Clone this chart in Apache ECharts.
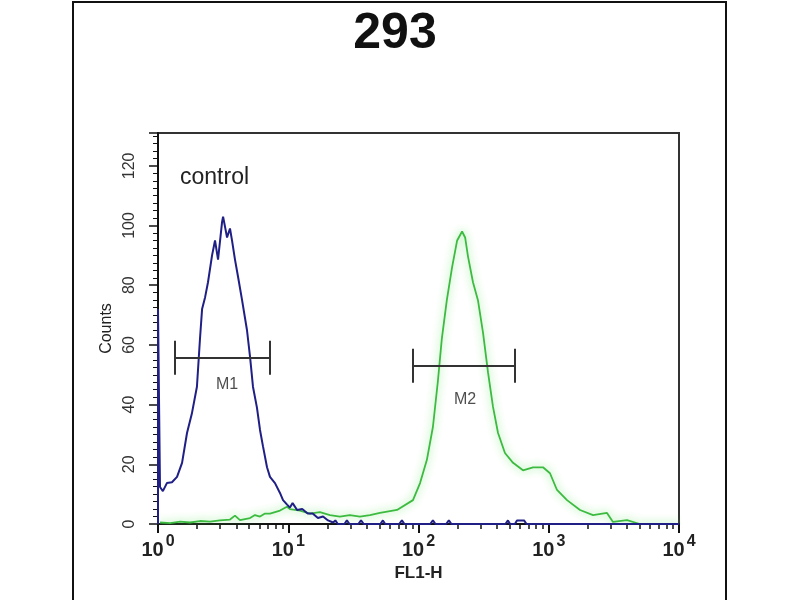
<!DOCTYPE html>
<html>
<head>
<meta charset="utf-8">
<style>
  html, body { margin: 0; padding: 0; background: #fff; }
  #chart { width: 800px; height: 600px; }
</style>
<script src="https://cdn.jsdelivr.net/npm/echarts@6/dist/echarts.min.js"></script>
</head>
<body>
<div id="chart"></div>
<script>
// control histogram (blue) - FL1-H channel value / counts
var blueX = [1, 1, 1.015, 1.036, 1.09, 1.17, 1.28, 1.40, 1.53, 1.67, 1.82, 1.99, 2.10, 2.18, 2.30, 2.42, 2.60, 2.74, 2.89, 3.10,
  3.16, 3.39, 3.57, 3.70, 3.90, 4.11, 4.42, 4.82, 5.09, 5.36, 5.75, 6.07, 6.40, 6.87, 7.24, 7.91, 8.64, 9.12, 9.8, 10.3,
  10.8, 11.7, 12.8, 14.1, 15.4, 16.9, 18.5, 20.2, 22.1, 23, 24, 27, 28.2, 29.5, 34.5, 36.2, 38, 51, 53.3, 55.5,
  71, 74.6, 78, 123, 129, 135, 163, 171, 179, 465, 486, 505, 550, 570, 600, 646, 675, 10000]
var blueY = [0, 72, 72, 12.4, 11, 13.7, 14, 15.8, 20.5, 30.5, 37, 46, 62, 72, 76, 81, 90, 95, 88.6, 101,
  103, 96, 99, 95, 88.6, 83, 75, 65, 56, 46, 39, 31.5, 26, 19, 15.8, 13.7, 10.4, 8, 6.5, 5.5,
  7, 4.7, 5, 3.5, 3.5, 2, 2.5, 1.2, 0.5, 1.2, 0, 0, 1.2, 0, 0, 1.2, 0, 0, 1.2, 0,
  0, 1.2, 0, 0, 1.2, 0, 0, 1.2, 0, 0, 1.2, 0, 0, 1.2, 1.2, 1.2, 0, 0]

// stained histogram (green)
var greenX = [1.036, 1.24, 1.48, 1.76, 2.10, 2.51, 2.99, 3.57, 3.90, 4.26, 5.09, 5.55, 6.07, 6.63, 7.24, 7.91, 8.64, 9.77, 10.3, 12.3,
  14.7, 17.5, 20.9, 24.9, 29.7, 35.5, 42.4, 50.6, 68.4, 90.7, 102.8, 116, 129, 141, 151, 165, 181, 198, 216, 228,
  240, 262, 286, 313, 342, 373, 408, 461, 532, 634, 757, 903, 1022, 1157, 1381, 1738, 2187, 2800, 3113, 3989, 5000, 10000]
var greenY = [0.5, 0.3, 0.8, 0.5, 1, 0.8, 1.2, 1.5, 2.8, 1.3, 2, 3, 2.5, 3.5, 3.5, 4, 4.5, 5.8, 5, 4.5,
  3.5, 4, 3, 2.5, 3, 2.5, 3, 3.7, 4.7, 8, 13.7, 21.5, 32.5, 48, 62, 75, 86, 95, 98, 96,
  89.6, 81, 75, 64, 50.7, 39.3, 30.5, 23.8, 20.5, 18, 19, 19, 17, 11.4, 8, 4.7, 3, 3.7, 0.7, 1.3, 0, 0]

// gates
var m1Range = [1.35, 7.24]
var m1Level = 55.7
var m1LabelAt = [3.39, 46.6]
var m2Range = [90.7, 551]
var m2Level = 53
var m2LabelAt = [228, 41.6]
var capHalf = 5.7

var yTicks = [0, 20, 40, 60, 80, 100, 120]
var yMax = 131
var xDecades = [1, 10, 100, 1000, 10000]
// minor log ticks 2..9 of each decade, placed on a helper axis in log10 space
var xMinorLog = []
xDecades.slice(0, 4).forEach(function (d) {
  for (var k = 2; k <= 9; k++) xMinorLog.push(Math.log(d * k) / Math.LN10)
})

var FONT = 'Liberation Sans, Arial, sans-serif'

function pairs(xs, ys) {
  return xs.map(function (x, i) { return [x, ys[i]] })
}

function gate(range, level) {
  return [
    { coords: [[range[0], level], [range[1], level]] },
    { coords: [[range[0], level - capHalf], [range[0], level + capHalf]] },
    { coords: [[range[1], level - capHalf], [range[1], level + capHalf]] }
  ]
}

var myChart = echarts.init(document.getElementById('chart'), null, { renderer: 'canvas' })

var option = {
  animation: false,
  backgroundColor: '#fff',
  graphic: [
    {
      type: 'rect',
      shape: { x: 73, y: 2, width: 653, height: 620 },
      style: { fill: 'none', stroke: '#111', lineWidth: 2 },
      z: -1
    },
    {
      type: 'text',
      style: {
        text: '293', x: 395, y: 34, align: 'center', verticalAlign: 'middle',
        fontSize: 50, fontWeight: 'bold', fontFamily: FONT, fill: '#111'
      }
    },
    {
      type: 'text',
      style: {
        text: 'control', x: 180, y: 178, align: 'left', verticalAlign: 'middle',
        fontSize: 23, fontFamily: FONT, fill: '#222'
      }
    }
  ],
  grid: {
    left: 158,
    right: 121,
    top: 133,
    bottom: 76,
    show: true,
    borderColor: '#333',
    borderWidth: 2,
    backgroundColor: '#fff'
  },
  xAxis: [
    {
      type: 'log',
      logBase: 10,
      min: 1,
      max: 10000,
      name: 'FL1-H',
      nameLocation: 'middle',
      nameGap: 40,
      nameTextStyle: { fontSize: 17, fontWeight: 'bold', fontFamily: FONT, color: '#222' },
      axisLine: { lineStyle: { color: '#111', width: 2 } },
      axisTick: { show: true, inside: false, length: 9, lineStyle: { color: '#111', width: 2 } },
      splitLine: { show: false },
      axisLabel: {
        margin: 10,
        showMinLabel: true,
        showMaxLabel: true,
        formatter: function (v) {
          var e = Math.round(Math.log(v) / Math.LN10)
          return '{b|10}{s|' + e + '}'
        },
        rich: {
          b: { fontSize: 20, fontWeight: 'bold', fontFamily: 'Liberation Sans Narrow, ' + FONT, color: '#222', verticalAlign: 'bottom', padding: [6, 0, 0, 0] },
          s: { fontSize: 16, fontWeight: 'bold', fontFamily: 'Liberation Sans Narrow, ' + FONT, color: '#222', verticalAlign: 'top', padding: [0, 0, 0, 2] }
        }
      }
    },
    {
      type: 'value',
      min: 0,
      max: 4,
      position: 'bottom',
      axisLine: { show: false },
      axisLabel: { show: false },
      splitLine: { show: false },
      axisTick: { show: true, length: 5, customValues: xMinorLog, lineStyle: { color: '#111', width: 1.5 } }
    }
  ],
  yAxis: {
    type: 'value',
    min: 0,
    max: yMax,
    interval: 20,
    name: 'Counts',
    nameLocation: 'middle',
    nameRotate: 90,
    nameGap: 43,
    nameTextStyle: { fontSize: 16, fontFamily: FONT, color: '#222' },
    axisLine: { show: true, lineStyle: { color: '#111', width: 2 } },
    axisTick: { show: true, length: 9, lineStyle: { color: '#111', width: 1.5 } },
    minorTick: { show: true, splitNumber: 8, length: 5, lineStyle: { color: '#111', width: 1 } },
    splitLine: { show: false },
    axisLabel: {
      rotate: 90,
      margin: 20,
      fontSize: 16,
      fontFamily: FONT,
      color: '#333',
      formatter: function (v) { return yTicks.indexOf(v) >= 0 ? String(v) : '' }
    }
  },
  series: [
    {
      name: 'stained',
      type: 'line',
      data: pairs(greenX, greenY),
      showSymbol: false,
      symbol: 'none',
      lineStyle: { color: '#3cbb40', width: 1.8, shadowColor: 'rgba(110,230,110,0.9)', shadowBlur: 9 },
      z: 2
    },
    {
      name: 'control',
      type: 'line',
      data: pairs(blueX, blueY),
      showSymbol: false,
      symbol: 'none',
      lineStyle: { color: '#1f1f86', width: 2 },
      z: 3
    },
    {
      type: 'lines',
      coordinateSystem: 'cartesian2d',
      data: gate(m1Range, m1Level).concat(gate(m2Range, m2Level)),
      lineStyle: { color: '#333', width: 2, opacity: 1 },
      z: 4
    },
    {
      type: 'scatter',
      symbolSize: 0,
      data: [
        { value: m1LabelAt, name: 'M1' },
        { value: m2LabelAt, name: 'M2' }
      ],
      label: {
        show: true,
        position: 'inside',
        formatter: '{b}',
        fontSize: 16,
        fontFamily: FONT,
        color: '#222'
      },
      z: 5
    }
  ]
}

myChart.setOption(option)
window.addEventListener('resize', function () {
  myChart.resize()
})
</script>
</body>
</html>
